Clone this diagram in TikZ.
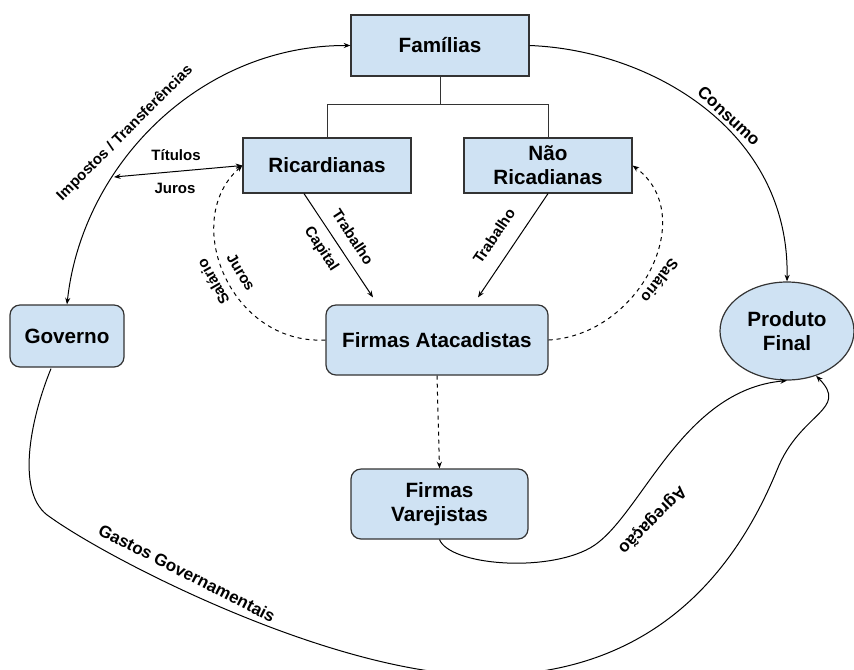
\documentclass[tikz,border=0pt]{standalone}
\usepackage{fontspec}
\setmainfont{Liberation Sans}
\usetikzlibrary{arrows.meta,shapes.geometric}

\begin{document}
\begin{tikzpicture}[x=0.75pt,y=0.75pt,yscale=-1,xscale=1,
  boxfill/.style={draw={rgb, 255:red, 51; green, 51; blue, 51 }, fill={rgb, 255:red, 207; green, 226; blue, 243 }, line width=0.9pt, align=center, inner sep=0pt, font=\fontsize{15.5}{18}\selectfont\bfseries},
  sqbox/.style={boxfill, rectangle},
  rndbox/.style={boxfill, rectangle, rounded corners=7.5pt},
  flow/.style={draw=black, line width=0.75pt, -{Stealth[length=5pt,width=3.8pt]}},
  twoway/.style={{Stealth[length=5pt,width=3.8pt]}-{Stealth[length=5pt,width=3.8pt]}},
  treeline/.style={draw={rgb, 255:red, 51; green, 51; blue, 51 }, line width=0.75pt},
  lbl/.style={inner sep=0pt, font=\fontsize{11.25}{13}\selectfont\bfseries},
  biglbl/.style={inner sep=0pt, font=\fontsize{12.75}{15}\selectfont\bfseries}]
\path[use as bounding box] (0,0) rectangle (854,669); %set diagram size to the reference

%Shape: Rectangle [id:fam]
\draw (440,45.5) node [sqbox, minimum width=133.5pt, minimum height=45.75pt] (fam) {Famílias};
%Shape: Rectangle [id:ric]
\draw (327,165.5) node [sqbox, minimum width=126pt, minimum height=41.25pt] (ric) {Ricardianas};
%Shape: Rectangle [id:nr]
\draw (548,165.5) node [sqbox, minimum width=126pt, minimum height=41.25pt] (nr) {Não\\Ricadianas};
%Rounded Rect [id:gov]
\draw (67,336) node [rndbox, minimum width=85.5pt, minimum height=46.5pt] (gov) {Governo};
%Rounded Rect [id:fa]
\draw (437,340) node [rndbox, minimum width=166.5pt, minimum height=52.5pt] (fa) {Firmas Atacadistas};
%Rounded Rect [id:fv]
\draw (439.5,504) node [rndbox, minimum width=132.75pt, minimum height=52.5pt] (fv) {Firmas\\Varejistas};
%Shape: Ellipse [id:pf]
\draw (787,331) node [boxfill, ellipse, minimum width=100.5pt, minimum height=73.5pt] (pf) {Produto\\Final};

%Straight Lines [id:tree]
\draw [treeline] (fam.south) -- ++(0,28) coordinate (split);
\draw [treeline] (ric.north) |- (split) -| (nr.north);

%Curve Lines [id:imp]
\draw [flow, twoway] (gov.north) .. controls (82,165) and (200,45) .. (fam.west);
%Straight Lines [id:tit]
\coordinate (tj) at (114,177);
\draw [flow, twoway] (tj) -- (ric.west);
%Curve Lines [id:con]
\draw [flow] (fam.east) .. controls (650,50) and (790,130) .. (pf.north);
%Straight Lines [id:trab1]
\draw [flow] ([shift={(-23,0)}]ric.south) -- ([shift={(-64,-7)}]fa.north);
%Straight Lines [id:trab2]
\draw [flow] (nr.south) -- ([shift={(41,-7)}]fa.north);
%Curve Lines [id:sal1]
\draw [flow, dashed] (fa.west) .. controls (230,345) and (180,220) .. (ric.west);
%Curve Lines [id:sal2]
\draw [flow, dashed] (fa.east) .. controls (640,335) and (700,215) .. (nr.east);
%Straight Lines [id:fafv]
\draw [flow, dashed] (fa.south) -- (fv.north);
%Curve Lines [id:agr]
\draw [flow] (fv.south) .. controls (450,565) and (545,573) .. (590,548) .. controls (640,520) and (680,390) .. (pf.south);
%Curve Lines [id:gas]
\draw [flow] ([shift={(-16,1)}]gov.south) .. controls (30,420) and (15,495) .. (50,517) .. controls (110,560) and (320,668) .. (470,675) .. controls (660,682) and (740,560) .. (777,470) .. controls (800,412) and (850,410) .. (pf.-57);

% Text Node
\draw (125,133) node [lbl, rotate=45] (tImp) {Impostos / Transferências};
% Text Node
\draw (176,155) node [lbl] (tTit) {Títulos};
% Text Node
\draw (175,188) node [lbl] (tJur) {Juros};
% Text Node
\draw (729,116) node [biglbl, rotate=-43] (tCon) {Consumo};
% Text Node
\draw (353,237) node [lbl, rotate=-57] (tTrabR) {Trabalho};
% Text Node
\draw (321,249) node [lbl, rotate=-57] (tCap) {Capital};
% Text Node
\draw (494,236) node [lbl, rotate=56] (tTrabN) {Trabalho};
% Text Node
\draw (241,272) node [lbl, rotate=-59] (tJurR) {Juros};
% Text Node
\draw (213,282) node [lbl, rotate=120] (tSalR) {Salário};
% Text Node
\draw (660,281) node [lbl, rotate=232] (tSalN) {Salário};
% Text Node
\draw (652,520) node [biglbl, rotate=225] (tAgr) {Agregação};
% Text Node
\draw (187,573) node [biglbl, rotate=-27] (tGas) {Gastos Governamentais};

\end{tikzpicture}
\end{document}
